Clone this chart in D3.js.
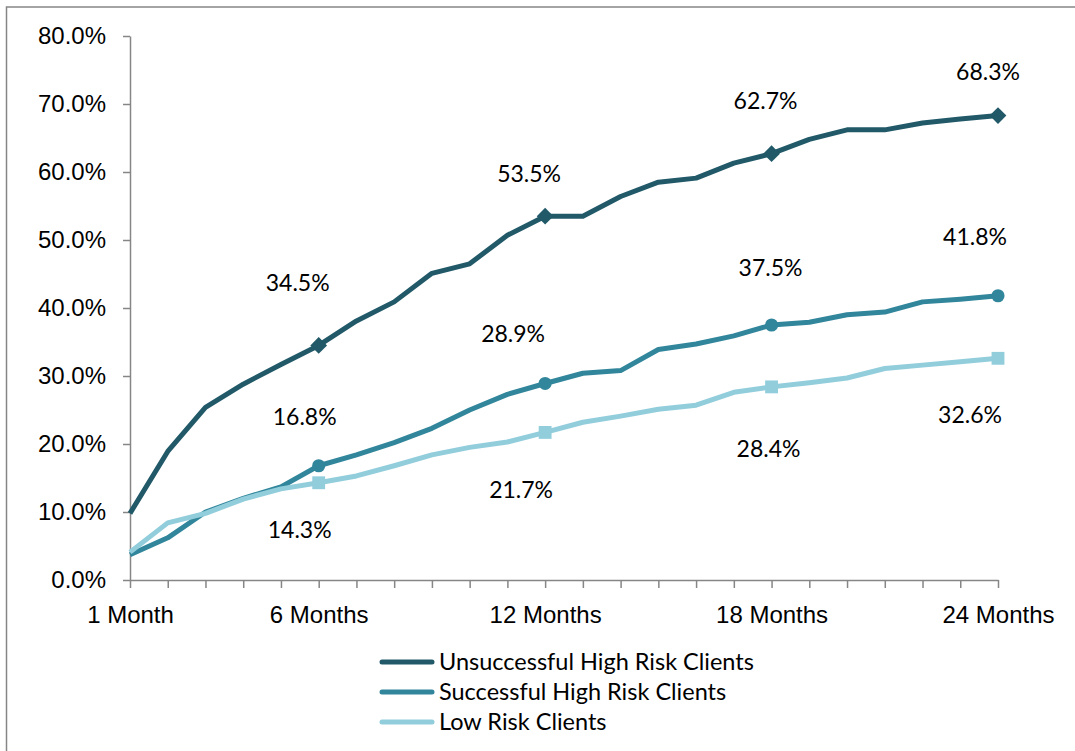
<!DOCTYPE html>
<html>
<head>
<meta charset="utf-8">
<script src="https://cdn.jsdelivr.net/npm/d3@7"></script>
<style>
  body { margin: 0; background: #fff; }
  svg { display: block; font-family: Lato, "Open Sans", sans-serif; }
  .axis path, .axis line { stroke: #868686; stroke-width: 1.5; }
  .axis text { fill: #000; font-size: 24px; }
</style>
</head>
<body>
<div id="chart"></div>
<script>
// months on the x axis, only some of them get a label
const months = d3.range(1, 25);
const monthLabels = { 1: "1 Month", 6: "6 Months", 12: "12 Months", 18: "18 Months", 24: "24 Months" };

const seriesNames = ["Unsuccessful High Risk Clients", "Successful High Risk Clients", "Low Risk Clients"];
const unsuccessfulHigh = [9.8, 18.9, 25.4, 28.8, 31.7, 34.5, 38.1, 40.9, 45.1, 46.5, 50.7, 53.5,
                          53.5, 56.4, 58.5, 59.1, 61.3, 62.7, 64.8, 66.2, 66.2, 67.2, 67.8, 68.3];
const successfulHigh = [3.7, 6.2, 10.0, 12.0, 13.7, 16.8, 18.4, 20.2, 22.3, 25.0, 27.3, 28.9,
                        30.4, 30.8, 33.9, 34.7, 35.9, 37.5, 37.9, 39.0, 39.4, 40.9, 41.3, 41.8];
const lowRisk = [4.1, 8.4, 9.8, 11.9, 13.4, 14.3, 15.3, 16.8, 18.4, 19.5, 20.3, 21.7,
                 23.2, 24.1, 25.1, 25.7, 27.6, 28.4, 29.0, 29.7, 31.1, 31.6, 32.1, 32.6];
const markedMonths = [6, 12, 18, 24];
const yTicks = [0, 10, 20, 30, 40, 50, 60, 70, 80];

const colors = ["#215968", "#31869b", "#92cddc"];
// diamond = square turned 45deg, like Excel's
const markerTypes = [d3.symbolSquare, d3.symbolCircle, d3.symbolSquare];
const markerRotate = [45, 0, 0];
const markerSizes = [140, 135, 165];
// where Excel put each data label, relative to its marker
const labelOffsets = [
  [[-21, -62], [-16, -42], [-6, -53], [-10, -44]],
  [[-14, -49], [-32, -50], [-1, -57], [-23, -59]],
  [[-19, 47], [-24, 58], [-3, 62], [-28, 57]]
];

const width = 1075, height = 751;
const allSeries = [unsuccessfulHigh, successfulHigh, lowRisk];

const svg = d3.select("#chart").append("svg")
  .attr("width", width)
  .attr("height", height);

svg.append("rect")
  .attr("x", 6.5).attr("y", 7)
  .attr("width", width).attr("height", height)
  .attr("fill", "#fff")
  .attr("stroke", "#868686")
  .attr("stroke-width", 1.5);

const xScale = d3.scalePoint().domain(months).range([130, 998]);
const yScale = d3.scaleLinear().domain([0, 80]).range([580, 36]);

svg.append("g")
  .attr("class", "axis")
  .attr("transform", "translate(130,0)")
  .call(d3.axisLeft(yScale).tickValues(yTicks).tickSize(7).tickSizeOuter(0).tickPadding(17)
    .tickFormat(d => d.toFixed(1) + "%"));

svg.append("g")
  .attr("class", "axis")
  .attr("transform", "translate(0,580)")
  .call(d3.axisBottom(xScale).tickSize(8).tickSizeOuter(0).tickPadding(18)
    .tickFormat(d => monthLabels[d] || ""));

const line = d3.line()
  .x((d, i) => xScale(months[i]))
  .y(d => yScale(d));

allSeries.forEach((vals, s) => {
  svg.append("path")
    .datum(vals)
    .attr("fill", "none")
    .attr("stroke", colors[s])
    .attr("stroke-width", 5)
    .attr("stroke-linejoin", "round")
    .attr("d", line);
});

allSeries.forEach((vals, s) => {
  const g = svg.append("g");
  markedMonths.forEach((m, k) => {
    const x = xScale(m), y = yScale(vals[m - 1]);
    g.append("path")
      .attr("d", d3.symbol().type(markerTypes[s]).size(markerSizes[s])())
      .attr("transform", "translate(" + x + "," + y + ") rotate(" + markerRotate[s] + ")")
      .attr("fill", colors[s]);
    g.append("text")
      .attr("x", x + labelOffsets[s][k][0])
      .attr("y", y + labelOffsets[s][k][1])
      .attr("dy", "0.35em")
      .attr("text-anchor", "middle")
      .style("font-size", "23px")
      .text(vals[m - 1].toFixed(1) + "%");
  });
});

// legend
const legend = svg.append("g");
seriesNames.forEach((name, s) => {
  const y = 662 + s * 30;
  legend.append("line")
    .attr("x1", 382).attr("x2", 432)
    .attr("y1", y).attr("y2", y)
    .attr("stroke", colors[s])
    .attr("stroke-width", 5)
    .attr("stroke-linecap", "round");
  legend.append("text")
    .attr("x", 439).attr("y", y)
    .attr("dy", "0.35em")
    .style("font-size", "23.5px")
    .text(name);
});
</script>
</body>
</html>
